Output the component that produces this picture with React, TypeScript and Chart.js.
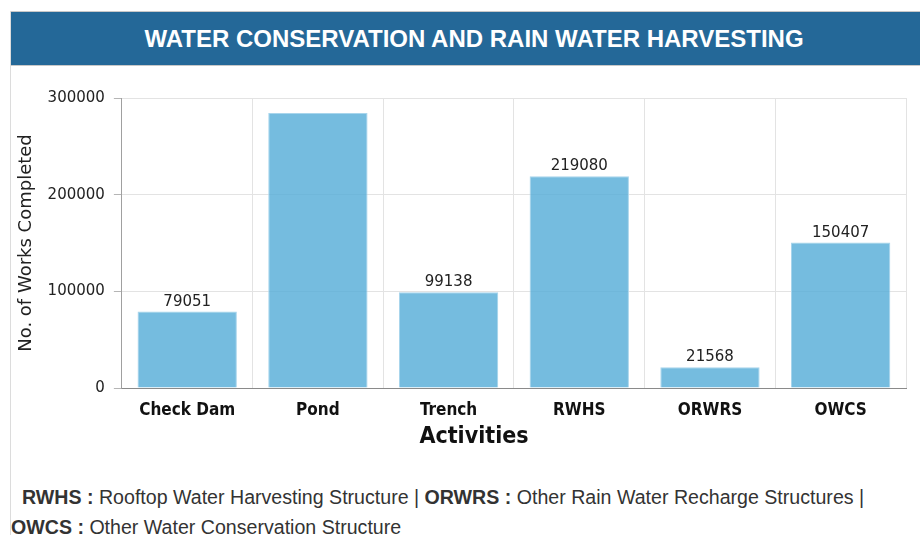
import React, { useEffect, useRef } from "react";
import { Chart, registerables } from "chart.js";

Chart.register(...registerables);

const titleText = "WATER CONSERVATION AND RAIN WATER HARVESTING";
const categories = ["Check Dam", "Pond", "Trench", "RWHS", "ORWRS", "OWCS"];
const worksCompleted = [79051, 284500, 99138, 219080, 21568, 150407];
const yTickValues = [0, 100000, 200000, 300000];
const xAxisTitle = "Activities";
const yAxisTitle = "No. of Works Completed";
const footnotes = [
  [
    { abbr: "RWHS", text: "Rooftop Water Harvesting Structure" },
    { abbr: "ORWRS", text: "Other Rain Water Recharge Structures" },
  ],
  [{ abbr: "OWCS", text: "Other Water Conservation Structure" }],
];

const FONT_REG = "'DejaVu Sans', Verdana, sans-serif";
const FONT_COND = "'DejaVu Sans Condensed', 'DejaVu Sans', Tahoma, sans-serif";
const X_TITLE_FONT = `bold 23px ${FONT_COND}`;

const valueLabels = {
  id: "valueLabels",
  afterDatasetsDraw(chart: any) {
    const { ctx, chartArea } = chart;
    const meta = chart.getDatasetMeta(0);
    ctx.save();
    ctx.font = `15px ${FONT_REG}`;
    ctx.fillStyle = "#222";
    ctx.textAlign = "center";
    ctx.textBaseline = "alphabetic";
    meta.data.forEach((bar: any, i: number) => {
      const y = bar.y - 6;
      if (y - 13 < chartArea.top) return;
      ctx.fillText(String(worksCompleted[i]), bar.x, y);
    });
    ctx.restore();
  },
};

// x-axis title centred on the full chart panel (the panel extends past the canvas on the right)
const panelTitle = {
  id: "panelTitle",
  afterDraw(chart: any) {
    const { ctx } = chart;
    const xScale = chart.scales.x;
    ctx.save();
    ctx.font = X_TITLE_FONT;
    ctx.fillStyle = "#111";
    ctx.textAlign = "center";
    ctx.textBaseline = "middle";
    const cx = (chart.width + 17) / 2;
    const cy = xScale.bottom - 4 - (23 * 1.2) / 2;
    ctx.fillText(xAxisTitle, cx, cy);
    ctx.restore();
  },
};

export default function App() {
  const canvasRef = useRef<HTMLCanvasElement | null>(null);

  useEffect(() => {
    if (!canvasRef.current) return;
    const chart = new Chart(canvasRef.current, {
      type: "bar",
      data: {
        labels: categories,
        datasets: [
          {
            data: worksCompleted,
            backgroundColor: "rgba(82,171,215,0.8)",
            borderColor: "rgba(168,213,236,1)",
            borderWidth: 1,
            barPercentage: 0.95,
            categoryPercentage: 0.8,
          },
        ],
      },
      options: {
        responsive: true,
        maintainAspectRatio: false,
        animation: false,
        layout: { padding: { top: 32, right: 14, left: 1, bottom: 17 } },
        plugins: { legend: { display: false }, tooltip: { enabled: false } },
        scales: {
          x: {
            offset: true,
            grid: {
              offset: true,
              color: "#e3e3e3",
              tickLength: 10,
              tickColor: "rgba(0,0,0,0)",
            },
            border: { color: "#8a8a8a" },
            ticks: {
              padding: 2,
              color: "#111",
              font: { family: FONT_COND, size: 17, weight: "bold" },
            },
            title: {
              display: true,
              text: xAxisTitle,
              color: "rgba(0,0,0,0)",
              font: { family: FONT_COND, size: 23, weight: "bold" },
              padding: { top: 1, bottom: 4 },
            },
          },
          y: {
            min: 0,
            max: 300000,
            afterBuildTicks: (axis: any) => {
              axis.ticks = yTickValues.map((v) => ({ value: v }));
            },
            grid: { color: "#e3e3e3", tickLength: 8, tickColor: "#b5b5b5" },
            border: { color: "#a0a0a0" },
            ticks: {
              padding: 9,
              color: "#222",
              font: { family: FONT_REG, size: 15 },
              callback: (v: any) => String(v),
            },
            title: {
              display: true,
              text: yAxisTitle,
              color: "#222",
              font: { family: FONT_REG, size: 18 },
              padding: { top: 4, bottom: 1 },
            },
          },
        },
      },
      plugins: [valueLabels, panelTitle],
    });
    return () => chart.destroy();
  }, []);

  return (
    <div
      style={{
        position: "absolute",
        left: 10,
        top: 11,
        width: 910,
        height: 524,
        overflow: "hidden",
        borderLeft: "1px solid #dcdcdc",
        background: "#fff",
        boxSizing: "border-box",
      }}
    >
      <div
        style={{
          width: 926,
          height: 53,
          background: "#246898",
          borderTop: "1px solid #c8c8c8",
          borderBottom: "1px solid #c8c8c8",
          color: "#fff",
          fontFamily: "'Liberation Sans', Arial, sans-serif",
          fontWeight: "bold",
          fontSize: 24,
          lineHeight: "53px",
          textAlign: "center",
          whiteSpace: "nowrap",
        }}
      >
        {titleText}
      </div>
      <div style={{ position: "relative", width: 909, height: 406 }}>
        <canvas ref={canvasRef} />
      </div>
      <div
        style={{
          paddingTop: 10,
          fontFamily: "'Liberation Sans', Arial, sans-serif",
          fontSize: 19.6,
          lineHeight: "30px",
          color: "#333",
          whiteSpace: "nowrap",
        }}
      >
        {footnotes.map((line, li) => (
          <div key={li} style={{ paddingLeft: li === 0 ? 11 : 0 }}>
            {line.map((f, fi) => (
              <span key={fi}>
                <b>{f.abbr} :</b> {f.text}
                {li === 0 ? " | " : ""}
              </span>
            ))}
          </div>
        ))}
      </div>
    </div>
  );
}
